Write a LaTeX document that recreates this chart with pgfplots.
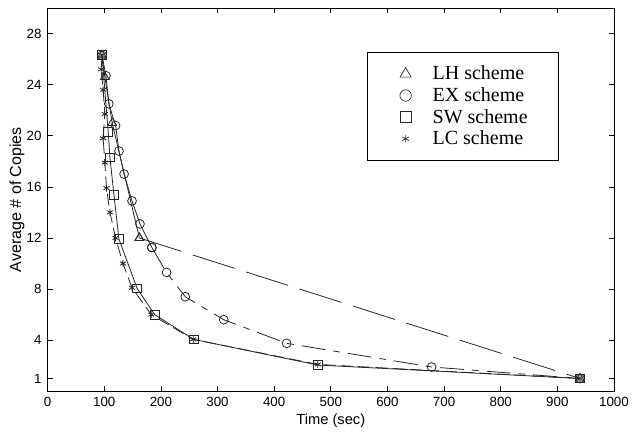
\documentclass[border=0pt]{standalone}
\usepackage{fontspec}
\setmainfont{Liberation Sans}
\newfontfamily\legfont{Liberation Serif}
\usepackage{pgfplots}
\pgfplotsset{compat=1.18}

\begin{document}
\begin{tikzpicture}
\path[use as bounding box] (-35.7pt,-30pt) rectangle (438pt,293.25pt);
\begin{axis}[
  scale only axis,
  width=424.5pt, height=287.25pt,
  xmin=0, xmax=1000, ymin=0, ymax=30,
  xtick={0,100,...,1000},
  ytick={1,4,8,12,16,20,24,28},
  tick align=inside,
  major tick length=4pt,
  xtick pos=both, ytick pos=both,
  tick style={black, line width=0.5pt},
  axis line style={black, line width=0.7pt},
  ticklabel style={font=\fontsize{10}{12}\selectfont},
  /pgf/number format/assume math mode=true,
  /pgf/number format/1000 sep={},
  xticklabel style={yshift=-1pt},
  yticklabel style={xshift=-1pt},
  xlabel={Time (sec)},
  ylabel={Average \# of Copies},
  every axis x label/.style={at={(axis description cs:0.5,0)}, yshift=-22pt, anchor=center, font=\fontsize{11}{13}\selectfont},
  every axis y label/.style={at={(axis description cs:0,0.5)}, xshift=-23pt, rotate=90, anchor=center, font=\fontsize{12}{14}\selectfont},
  legend style={at={(0.564,0.885)}, anchor=north west, draw=black, line width=0.8pt,
    inner xsep=23pt, inner ysep=10pt, row sep=4.3pt, column sep=0pt,
    nodes={inner sep=0pt},
    font=\legfont\fontsize{15}{16}\selectfont},
  legend cell align=left,
  markleg/.style={legend image code/.code={%
    \path[draw=none,fill=none] (0pt,0pt) -- (25.75pt,0pt);
    \draw[##1,line width=0.5pt] plot[only marks] coordinates {(5.5pt,0pt)};}},
]
% legend entries (marks only)
\addlegendimage{markleg, black!85, mark=triangle, mark size=4.8pt}
\addlegendentry{LH scheme}
\addlegendimage{markleg, black!85, mark=o, mark size=4.3pt}
\addlegendentry{EX scheme}
\addlegendimage{markleg, black!85, mark=square, mark size=4.2pt}
\addlegendentry{SW scheme}
\addlegendimage{markleg, black!85, mark=asterisk, mark size=2.8pt}
\addlegendentry{LC scheme}

% LH scheme
\addplot[black!85, line width=0.6pt, mark=triangle, mark size=3.8pt, mark options={solid}, forget plot] coordinates {
  (96,26.3) (101,24.6) (114,21.0) (162,12.0)
};
\addplot[black!85, line width=0.6pt, dash pattern=on 33pt off 9pt, mark=triangle, mark size=3.8pt, mark options={solid}, forget plot] coordinates {
  (162,12.0) (940,1.0)
};
% EX scheme
\addplot[black!85, line width=0.6pt, mark=o, mark size=3.3pt, mark options={solid}, forget plot] coordinates {
  (96,26.3) (103,24.7) (108,22.5) (120,20.8) (126,18.8) (135,17.0)
  (149,14.9) (163,13.1) (184,11.25)
};
\addplot[black!85, line width=0.6pt, dash pattern=on 18pt off 6pt on 5pt off 6pt, mark=o, mark size=3.3pt, mark options={solid}, forget plot] coordinates {
  (184,11.25) (210,9.3) (243,7.4) (311,5.6) (422,3.75) (678,1.9) (940,1.0)
};
% SW scheme
\addplot[black!85, line width=0.6pt, mark=square, mark size=3.3pt, mark options={solid}, forget plot] coordinates {
  (96,26.3) (107,20.3) (110,18.3) (117,15.4) (126,11.9) (158,8.05)
  (189,6.0) (258,4.06) (477,2.05) (940,1.0)
};
% LC scheme
\addplot[black!85, line width=0.6pt, dash pattern=on 9pt off 4pt, mark=asterisk, mark size=2.6pt, mark options={solid}, forget plot] coordinates {
  (96,26.3) (94.5,25.2) (98,23.6) (101,21.7) (98,19.8) (101,17.9) (104,15.9)
  (110,14.0) (120,12.0) (133,10.0) (149,8.1) (183,6.0) (257,4.06)
  (477,2.1) (940,1.0)
};
\end{axis}
\end{tikzpicture}
\end{document}
